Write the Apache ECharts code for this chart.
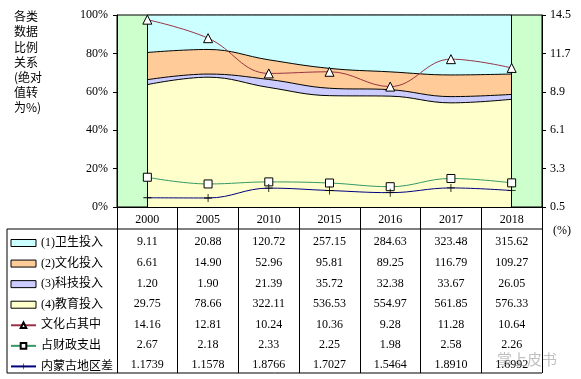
<!DOCTYPE html>
<html><head><meta charset="utf-8">
<script src="https://cdn.jsdelivr.net/npm/echarts@6/dist/echarts.min.js"></script>
<style>html,body{margin:0;padding:0;background:#fff}#c{width:581px;height:379px}</style>
</head><body><div id="c"></div>
<script>
const years = ['2000','2005','2010','2015','2016','2017','2018'];
const health = [9.11,20.88,120.72,257.15,284.63,323.48,315.62];
const culture = [6.61,14.90,52.96,95.81,89.25,116.79,109.27];
const scitech = [1.20,1.90,21.39,35.72,32.38,33.67,26.05];
const education = [29.75,78.66,322.11,536.53,554.97,561.85,576.33];
const cultureShare = [14.16,12.81,10.24,10.36,9.28,11.28,10.64];
const fiscalShare = [2.67,2.18,2.33,2.25,1.98,2.58,2.26];
const regionGap = [1.1739,1.1578,1.8766,1.7027,1.5464,1.8910,1.6992];
const leftTicks = [0,20,40,60,80,100];
const rightTicks = [0.5,3.3,6.1,8.9,11.7,14.5];

const names = ['(1)卫生投入','(2)文化投入','(3)科技投入','(4)教育投入','文化占其中','占财政支出','内蒙古地区差'];
const totals = years.map((_, i) => health[i] + culture[i] + scitech[i] + education[i]);
const pct = arr => arr.map((v, i) => v / totals[i] * 100);

const SERIF = "'Liberation Serif','Times New Roman','Noto Sans CJK SC',serif";
const MIX = "'Liberation Serif','Noto Sans CJK SC',serif";

const rows = [
  [health, 2], [culture, 2], [scitech, 2], [education, 2],
  [cultureShare, 2], [fiscalShare, 2], [regionGap, 4]
];
const rowCenters = [241.5, 262.5, 283.5, 304, 324.5, 345, 365];

const grids = [{ left: 117, right: 39, top: 15, bottom: 172, show: true, backgroundColor: '#CCFFCC', borderColor: '#000', borderWidth: 1 }];
const xAxes = [{
  type: 'category', data: years, boundaryGap: true, position: 'bottom', gridIndex: 0,
  axisLine: { show: true, lineStyle: { color: '#000', width: 1 } },
  axisTick: { show: true, inside: false, length: 166, alignWithLabel: false, lineStyle: { color: '#000', width: 1 } },
  axisLabel: { show: true, interval: 0, margin: 13, verticalAlign: 'middle', color: '#000', fontSize: 12, fontFamily: SERIF },
  splitLine: { show: false }
}];
const yAxes = [{
  type: 'value', gridIndex: 0, min: leftTicks[0], max: leftTicks[leftTicks.length - 1], interval: 20, position: 'left',
  axisLine: { show: true, lineStyle: { color: '#000' } },
  axisTick: { show: true, inside: false, length: 4, lineStyle: { color: '#000' } },
  axisLabel: { margin: 9, color: '#000', fontSize: 12, fontFamily: SERIF, formatter: '{value}%' },
  splitLine: { show: false }
}, {
  type: 'value', gridIndex: 0, min: rightTicks[0], max: rightTicks[rightTicks.length - 1], interval: 2.8, position: 'right',
  axisLine: { show: true, lineStyle: { color: '#000' } },
  axisTick: { show: true, inside: false, length: 4, lineStyle: { color: '#000' } },
  axisLabel: { margin: 8, color: '#000', fontSize: 12, fontFamily: SERIF, formatter: v => (+v).toFixed(1) },
  splitLine: { show: false }
}];
rows.forEach((r, k) => {
  grids.push({ left: 117, right: 39, top: rowCenters[k], height: 1, show: false });
  xAxes.push({
    type: 'category', data: years, boundaryGap: true, position: 'top', gridIndex: k + 1,
    axisLine: { show: false }, axisTick: { show: false }, splitLine: { show: false },
    axisLabel: {
      show: true, interval: 0, margin: 0, verticalAlign: 'middle', color: '#000', fontSize: 12, fontFamily: SERIF,
      formatter: (v, i) => r[0][i].toFixed(r[1])
    }
  });
  yAxes.push({ type: 'value', gridIndex: k + 1, show: false, min: 0, max: 1 });
});

const areaDefs = [
  [names[3], education, '#FFFFCC'],
  [names[2], scitech, '#CCCCFF'],
  [names[1], culture, '#FFCC99'],
  [names[0], health, '#CCFFFF']
];
const series = areaDefs.map((d, k) => ({
  name: d[0], type: 'line', stack: 'share', smooth: 0.4, symbol: 'none',
  xAxisIndex: 0, yAxisIndex: 0,
  data: pct(d[1]),
  lineStyle: { color: '#000', width: 1 },
  itemStyle: { color: d[2], borderColor: '#000', borderWidth: 1 },
  areaStyle: { color: d[2], opacity: 1 },
  z: 2,
  markLine: k === 3 ? {
    silent: true, symbol: 'none', label: { show: false },
    lineStyle: { color: '#000', width: 1, type: 'solid' },
    data: [{ xAxis: years[0] }, { xAxis: years[years.length - 1] }]
  } : undefined
}));
series.push({
  name: names[4], type: 'line', smooth: 0.4, xAxisIndex: 0, yAxisIndex: 1, data: cultureShare,
  symbol: 'triangle', symbolSize: 9,
  lineStyle: { color: '#993344', width: 1 },
  itemStyle: { color: '#fff', borderColor: '#000', borderWidth: 1 }, z: 5
});
series.push({
  name: names[5], type: 'line', smooth: 0.4, xAxisIndex: 0, yAxisIndex: 1, data: fiscalShare,
  symbol: 'rect', symbolSize: 8,
  lineStyle: { color: '#339966', width: 1 },
  itemStyle: { color: '#fff', borderColor: '#000', borderWidth: 1 }, z: 5
});
series.push({
  name: names[6], type: 'line', smooth: 0.4, xAxisIndex: 0, yAxisIndex: 1, data: regionGap,
  symbol: 'path://M4.5,0h1v4.5h4.5v1h-4.5v4.5h-1v-4.5h-4.5v-1h4.5z', symbolSize: 8,
  lineStyle: { color: '#000080', width: 1 },
  itemStyle: { color: '#000', borderWidth: 0 }, z: 5
});

const legendData = [
  { name: names[0], icon: 'rect', itemStyle: { color: '#CCFFFF', borderColor: '#000', borderWidth: 1 } },
  { name: names[1], icon: 'rect', itemStyle: { color: '#FFCC99', borderColor: '#000', borderWidth: 1 } },
  { name: names[2], icon: 'rect', itemStyle: { color: '#CCCCFF', borderColor: '#000', borderWidth: 1 } },
  { name: names[3], icon: 'rect', itemStyle: { color: '#FFFFCC', borderColor: '#000', borderWidth: 1 } },
  { name: names[4] }, { name: names[5] }, { name: names[6] }
];

const chart = echarts.init(document.getElementById('c'), null, { renderer: 'canvas' });
chart.setOption({
  animation: false,
  backgroundColor: '#fff',
  grid: grids,
  xAxis: xAxes,
  yAxis: yAxes,
  legend: {
    orient: 'vertical', left: 5, top: 231, height: 200, itemWidth: 25, itemHeight: 7, itemGap: 6.57,
    selectedMode: false, data: legendData,
    textStyle: { color: '#000', fontSize: 12, lineHeight: 14, fontFamily: MIX }
  },
  graphic: [
    { type: 'text', left: 14, top: 9, style: { text: '各类\n数据\n比例\n关系\n(绝对\n值转\n为%)', fill: '#000', font: "12px 'Noto Sans CJK SC'", lineHeight: 15.2 } },
    { type: 'text', left: 553, top: 225, style: { text: '(%)', fill: '#000', font: "12px 'Liberation Serif'" } },
    { type: 'line', shape: { x1: 7, y1: 229, x2: 542, y2: 229 }, style: { stroke: '#000', lineWidth: 1 } },
    { type: 'line', shape: { x1: 7, y1: 373, x2: 542, y2: 373 }, style: { stroke: '#000', lineWidth: 1 } },
    { type: 'line', shape: { x1: 7, y1: 229, x2: 7, y2: 373 }, style: { stroke: '#000', lineWidth: 1 } },
    { type: 'text', left: 497, top: 352, z: 100, style: { text: '掌上皮书', fill: 'rgba(140,140,140,0.55)', font: "15px 'Noto Sans CJK SC'" } }
  ],
  series: series
});
</script>
</body></html>
